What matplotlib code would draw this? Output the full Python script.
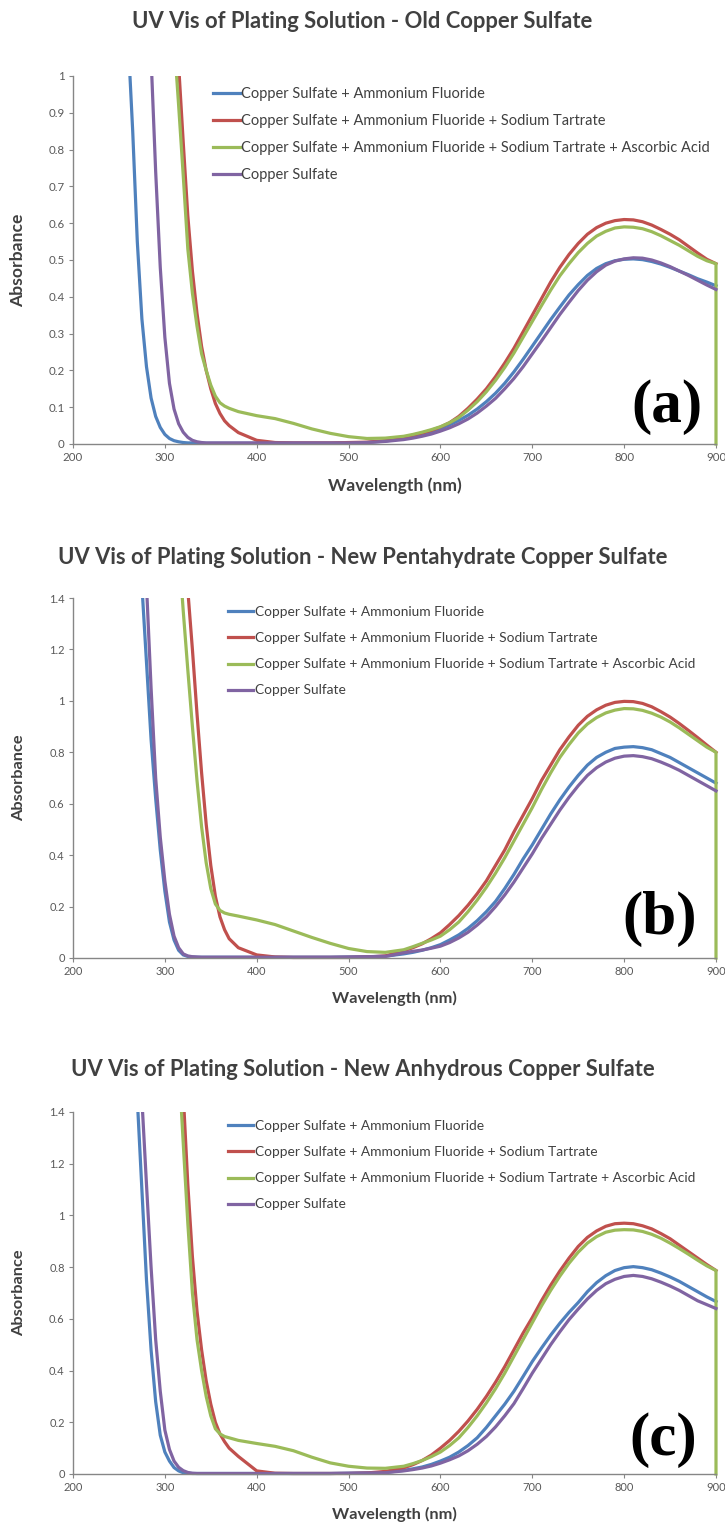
import numpy as np
import matplotlib

matplotlib.use("Agg")
import matplotlib.pyplot as plt
from matplotlib.patches import Rectangle
from matplotlib.ticker import MultipleLocator, FuncFormatter

plt.rcParams["font.family"] = ["Lato", "DejaVu Sans"]

OFF = np.nan  # reading is above the top of the axis

# wavelength grid (nm); last point repeated for the drop at the end of the scan
WAVELENGTH = [
    260, 265, 270, 275, 280, 285, 290, 295, 300,
    305, 310, 315, 320, 325, 330, 335, 340, 345,
    350, 355, 360, 365, 370,
    380, 400, 420, 440, 460, 480, 500, 520, 540, 560,
    570, 580, 590, 600, 610, 620, 630, 640, 650,
    660, 670, 680, 690, 700, 710, 720, 730, 740,
    750, 760, 770, 780, 790, 800, 810, 820, 830,
    840, 850, 860, 870, 880, 890, 900,
    900,
]

LABELS = [
    "Copper Sulfate + Ammonium Fluoride",
    "Copper Sulfate + Ammonium Fluoride + Sodium Tartrate",
    "Copper Sulfate + Ammonium Fluoride + Sodium Tartrate + Ascorbic Acid",
    "Copper Sulfate",
]
COLORS = ["#4F81BD", "#C0504D", "#9BBB59", "#8064A2"]

# ---- (a) old copper sulfate ----
A_BLUE = [
    1.10, 0.85, 0.55, 0.34, 0.21, 0.125, 0.075, 0.045, 0.026,
    0.015, 0.009, 0.006, 0.004, 0.003, 0.003, 0.002, 0.002, 0.002,
    0.002, 0.002, 0.002, 0.002, 0.002,
    0.002, 0.002, 0.002, 0.002, 0.002, 0.002, 0.003, 0.004, 0.008, 0.015,
    0.021, 0.027, 0.034, 0.042, 0.052, 0.064, 0.078, 0.095, 0.115,
    0.138, 0.165, 0.196, 0.23, 0.266, 0.302, 0.338, 0.372, 0.405,
    0.433, 0.458, 0.477, 0.49, 0.498, 0.502, 0.503, 0.501, 0.496,
    0.489, 0.48, 0.47, 0.46, 0.449, 0.44, 0.43,
    0.43,
]
A_RED = [
    OFF, OFF, OFF, OFF, OFF, OFF, OFF, OFF, OFF,
    OFF, OFF, 1.03, 0.82, 0.62, 0.47, 0.355, 0.265, 0.2,
    0.15, 0.11, 0.083, 0.063, 0.05,
    0.031, 0.01, 0.004, 0.003, 0.003, 0.003, 0.004, 0.005, 0.009, 0.018,
    0.024, 0.03, 0.037, 0.046, 0.058, 0.075, 0.097, 0.122, 0.15,
    0.183, 0.22, 0.26, 0.305, 0.35, 0.395, 0.44, 0.48, 0.515,
    0.545, 0.57, 0.588, 0.6, 0.607, 0.61, 0.609, 0.604, 0.595,
    0.583, 0.57, 0.555, 0.537, 0.519, 0.502, 0.49,
    0.49,
]
A_GREEN = [
    OFF, OFF, OFF, OFF, OFF, OFF, OFF, OFF, OFF,
    OFF, 1.1, 0.92, 0.73, 0.53, 0.41, 0.32, 0.245, 0.2,
    0.16, 0.13, 0.112, 0.103, 0.097,
    0.088, 0.077, 0.069, 0.056, 0.041, 0.029, 0.02, 0.015, 0.016, 0.021,
    0.026, 0.032, 0.039, 0.047, 0.058, 0.072, 0.092, 0.115, 0.142,
    0.173, 0.208, 0.247, 0.29, 0.333, 0.376, 0.418, 0.457, 0.49,
    0.52, 0.545, 0.565, 0.578, 0.587, 0.59, 0.589, 0.585, 0.577,
    0.566, 0.553, 0.54, 0.525, 0.51, 0.498, 0.49,
    0.0,
]
A_PURPLE = [
    OFF, OFF, OFF, OFF, OFF, 1.05, 0.74, 0.48, 0.29,
    0.165, 0.095, 0.055, 0.032, 0.018, 0.01, 0.006, 0.004, 0.003,
    0.003, 0.003, 0.003, 0.003, 0.003,
    0.003, 0.003, 0.003, 0.003, 0.003, 0.003, 0.003, 0.004, 0.007, 0.012,
    0.016, 0.021, 0.027, 0.035, 0.044, 0.055, 0.068, 0.084, 0.103,
    0.124, 0.15, 0.178, 0.21, 0.245, 0.28, 0.316, 0.352, 0.385,
    0.417, 0.445, 0.468, 0.486, 0.497, 0.503, 0.506, 0.505, 0.5,
    0.492, 0.482, 0.47, 0.458, 0.445, 0.432, 0.42,
    0.42,
]

# ---- (b) new pentahydrate copper sulfate ----
B_BLUE = [
    OFF, OFF, OFF, 1.45, 1.15, 0.85, 0.62, 0.42, 0.26,
    0.14, 0.07, 0.03, 0.012, 0.006, 0.004, 0.003, 0.003, 0.003,
    0.003, 0.003, 0.003, 0.003, 0.003,
    0.003, 0.003, 0.003, 0.003, 0.003, 0.003, 0.004, 0.005, 0.007, 0.016,
    0.022, 0.03, 0.04, 0.052, 0.07, 0.09, 0.115, 0.145, 0.18,
    0.22, 0.27, 0.325, 0.385, 0.44, 0.5, 0.56, 0.615, 0.665,
    0.71, 0.75, 0.78, 0.8, 0.815, 0.82, 0.822, 0.818, 0.81,
    0.795, 0.78, 0.76, 0.74, 0.72, 0.70, 0.68,
    0.68,
]
B_RED = [
    OFF, OFF, OFF, OFF, OFF, OFF, OFF, OFF, OFF,
    OFF, OFF, OFF, OFF, 1.43, 1.2, 0.95, 0.72, 0.52,
    0.36, 0.24, 0.16, 0.11, 0.075,
    0.04, 0.012, 0.004, 0.002, 0.002, 0.002, 0.002, 0.004, 0.008, 0.028,
    0.04, 0.055, 0.075, 0.098, 0.13, 0.165, 0.205, 0.25, 0.3,
    0.36, 0.42, 0.49, 0.555, 0.62, 0.69, 0.75, 0.81, 0.86,
    0.905, 0.94, 0.965, 0.983, 0.994, 0.998, 0.997, 0.99, 0.977,
    0.958, 0.937, 0.912, 0.885, 0.857, 0.828, 0.80,
    0.80,
]
B_GREEN = [
    OFF, OFF, OFF, OFF, OFF, OFF, OFF, OFF, OFF,
    OFF, OFF, 1.6, 1.35, 1.12, 0.9, 0.69, 0.51, 0.37,
    0.27, 0.21, 0.185, 0.175, 0.17,
    0.163, 0.148, 0.13, 0.105, 0.08, 0.057, 0.037, 0.025, 0.022, 0.032,
    0.044, 0.057, 0.07, 0.085, 0.11, 0.14, 0.18, 0.225, 0.275,
    0.33, 0.39, 0.455, 0.52, 0.585, 0.655, 0.72, 0.78, 0.83,
    0.875, 0.91, 0.935, 0.953, 0.964, 0.97, 0.969, 0.963, 0.952,
    0.937, 0.918, 0.895, 0.87, 0.845, 0.82, 0.80,
    0.0,
]
B_PURPLE = [
    OFF, OFF, OFF, OFF, 1.45, 1.05, 0.7, 0.47, 0.3,
    0.17, 0.085, 0.04, 0.016, 0.008, 0.005, 0.004, 0.003, 0.003,
    0.003, 0.003, 0.003, 0.003, 0.003,
    0.003, 0.003, 0.003, 0.003, 0.003, 0.003, 0.004, 0.005, 0.006, 0.02,
    0.026, 0.031, 0.038, 0.046, 0.06, 0.078, 0.1, 0.128, 0.16,
    0.2, 0.245, 0.295, 0.35, 0.405, 0.465, 0.52, 0.575, 0.625,
    0.67, 0.71, 0.74, 0.762, 0.777, 0.785, 0.787, 0.783, 0.775,
    0.762, 0.747, 0.73, 0.71, 0.69, 0.67, 0.65,
    0.65,
]

# ---- (c) new anhydrous copper sulfate ----
C_BLUE = [
    OFF, OFF, 1.45, 1.1, 0.75, 0.48, 0.28, 0.15, 0.085,
    0.05, 0.025, 0.012, 0.005, 0.003, 0.002, 0.002, 0.002, 0.002,
    0.002, 0.002, 0.002, 0.002, 0.002,
    0.002, 0.002, 0.002, 0.002, 0.002, 0.002, 0.003, 0.004, 0.006, 0.014,
    0.02, 0.027, 0.037, 0.05, 0.065, 0.085, 0.11, 0.14, 0.18,
    0.225, 0.27, 0.32, 0.377, 0.435, 0.487, 0.537, 0.583, 0.625,
    0.663, 0.705, 0.74, 0.767, 0.787, 0.798, 0.802, 0.798, 0.79,
    0.777, 0.762, 0.745, 0.725, 0.705, 0.685, 0.667,
    0.667,
]
C_RED = [
    OFF, OFF, OFF, OFF, OFF, OFF, OFF, OFF, OFF,
    OFF, OFF, OFF, 1.47, 1.12, 0.84, 0.63, 0.48, 0.36,
    0.27, 0.2, 0.155, 0.125, 0.1,
    0.068, 0.012, 0.003, 0.002, 0.002, 0.002, 0.002, 0.004, 0.01, 0.024,
    0.036, 0.052, 0.073, 0.1, 0.13, 0.165, 0.205, 0.25, 0.3,
    0.355, 0.415, 0.48, 0.545, 0.605, 0.67, 0.73, 0.785, 0.835,
    0.88, 0.915, 0.94, 0.958, 0.968, 0.97, 0.968, 0.96, 0.948,
    0.93, 0.91, 0.885, 0.86, 0.835, 0.81, 0.787,
    0.787,
]
C_GREEN = [
    OFF, OFF, OFF, OFF, OFF, OFF, OFF, OFF, OFF,
    OFF, OFF, 1.6, 1.28, 0.97, 0.7, 0.52, 0.4, 0.3,
    0.225, 0.175, 0.155, 0.145, 0.14,
    0.13, 0.118, 0.107, 0.09, 0.065, 0.043, 0.03, 0.023, 0.022, 0.03,
    0.04, 0.052, 0.067, 0.085, 0.11, 0.14, 0.18, 0.225, 0.275,
    0.33, 0.39, 0.455, 0.52, 0.585, 0.65, 0.71, 0.765, 0.815,
    0.858, 0.893, 0.918, 0.935, 0.943, 0.945, 0.944, 0.938, 0.927,
    0.912, 0.893, 0.872, 0.85, 0.827, 0.805, 0.787,
    0.0,
]
C_PURPLE = [
    OFF, OFF, OFF, 1.45, 1.12, 0.8, 0.52, 0.32, 0.17,
    0.095, 0.05, 0.026, 0.013, 0.006, 0.003, 0.002, 0.002, 0.002,
    0.002, 0.002, 0.002, 0.002, 0.002,
    0.002, 0.002, 0.002, 0.002, 0.002, 0.002, 0.003, 0.004, 0.005, 0.012,
    0.017, 0.023, 0.031, 0.042, 0.055, 0.07, 0.09, 0.115, 0.145,
    0.182, 0.225, 0.272, 0.33, 0.39, 0.445, 0.5, 0.55, 0.597,
    0.638, 0.677, 0.71, 0.736, 0.753, 0.764, 0.768, 0.764, 0.755,
    0.742, 0.727, 0.71, 0.69, 0.67, 0.655, 0.64,
    0.64,
]

TITLES = [
    "UV Vis of Plating Solution - Old Copper Sulfate",
    "UV Vis of Plating Solution - New Pentahydrate Copper Sulfate",
    "UV Vis of Plating Solution - New Anhydrous Copper Sulfate",
]
TAGS = ["(a)", "(b)", "(c)"]
Y_MAX = [1.0, 1.4, 1.4]
Y_STEP = [0.1, 0.2, 0.2]
PANEL_SERIES = [
    [A_BLUE, A_RED, A_GREEN, A_PURPLE],
    [B_BLUE, B_RED, B_GREEN, B_PURPLE],
    [C_BLUE, C_RED, C_GREEN, C_PURPLE],
]

# layout in pixels of the 725 x 1525 picture
W, H = 725, 1525
X0, X1 = 73, 716                                  # plot area left / right
PLOT_Y = [(76, 444), (598, 958), (1112, 1474)]    # plot area top / bottom
TITLE_Y = [22, 557, 1070]
LEGEND_XY = [(213, 94), (228, 613), (228, 1127)]  # handle start, first row centre
TAG_RIGHT = [703, 697, 697]
TAG_LIFT = [9, 11, 6]
# panel (a) was pasted in slightly larger than (b) and (c)
LEGEND_SIZE = [10.5, 9.9, 9.9]
LEGEND_GAP = [0.9, 1.03, 1.03]
AXIS_LABEL_SIZE = [12.6, 11.8, 11.8]
TICK_SIZE = [8.3, 8, 8]

AXIS_GREY = "#868686"
TEXT_GREY = "#595959"

fig = plt.figure(figsize=(W / 100, H / 100), dpi=100)

for k in range(3):
    top, bot = PLOT_Y[k]
    ax = fig.add_axes([X0 / W, 1 - bot / H, (X1 - X0) / W, (bot - top) / H])
    ax_h = bot - top
    ax_w = X1 - X0

    # let lines sit on the bottom and right edges, but cut them at the top
    clip = Rectangle((0, -0.03), 1.01, 1.03, transform=ax.transAxes)
    x = np.array(WAVELENGTH, dtype=float)
    lines = []
    for vals, lab, col in zip(PANEL_SERIES[k], LABELS, COLORS):
        (ln,) = ax.plot(x, np.array(vals, dtype=float), color=col, lw=2.3,
                        label=lab, solid_joinstyle="round")
        ln.set_clip_path(clip)
        lines.append(ln)

    ax.set_xlim(200, 900)
    ax.set_ylim(0, Y_MAX[k])
    ax.xaxis.set_major_locator(MultipleLocator(100))
    ax.yaxis.set_major_locator(MultipleLocator(Y_STEP[k]))
    ax.yaxis.set_major_formatter(FuncFormatter(lambda v, p: f"{v:g}"))

    for side in ("top", "right"):
        ax.spines[side].set_visible(False)
    for side in ("left", "bottom"):
        ax.spines[side].set_color(AXIS_GREY)
        ax.spines[side].set_linewidth(1.0)
    ax.tick_params(direction="out", length=3, width=0.8, color=AXIS_GREY,
                   labelcolor=TEXT_GREY, labelsize=TICK_SIZE[k], pad=3)

    ax.set_xlabel("Wavelength (nm)", fontsize=AXIS_LABEL_SIZE[k],
                  fontweight="bold", color="#404040")
    ax.xaxis.set_label_coords(0.5, -33 / ax_h)
    ax.set_ylabel("Absorbance", fontsize=AXIS_LABEL_SIZE[k],
                  fontweight="bold", color="#404040")
    ax.yaxis.set_label_coords(-47 / ax_w, 0.5)

    lx, ly = LEGEND_XY[k]
    leg = ax.legend(handles=lines, loc="upper left",
                    bbox_to_anchor=((lx - X0) / ax_w, 1 - (ly - 7 - top) / ax_h),
                    frameon=False, borderpad=0, borderaxespad=0,
                    handlelength=1.85, handletextpad=0.1,
                    labelspacing=LEGEND_GAP[k], fontsize=LEGEND_SIZE[k])
    for t in leg.get_texts():
        t.set_color("#404040")

    ax.text((TAG_RIGHT[k] - X0) / ax_w, TAG_LIFT[k] / ax_h, TAGS[k],
            transform=ax.transAxes, ha="right", va="bottom", fontsize=44,
            fontweight="bold", family=["Liberation Serif", "DejaVu Serif"],
            color="black")

    fig.text(0.5, 1 - TITLE_Y[k] / H, TITLES[k], ha="center", va="center",
             fontsize=15.8, fontweight="bold", color="#404040")

fig.savefig("out.png", dpi=100)
